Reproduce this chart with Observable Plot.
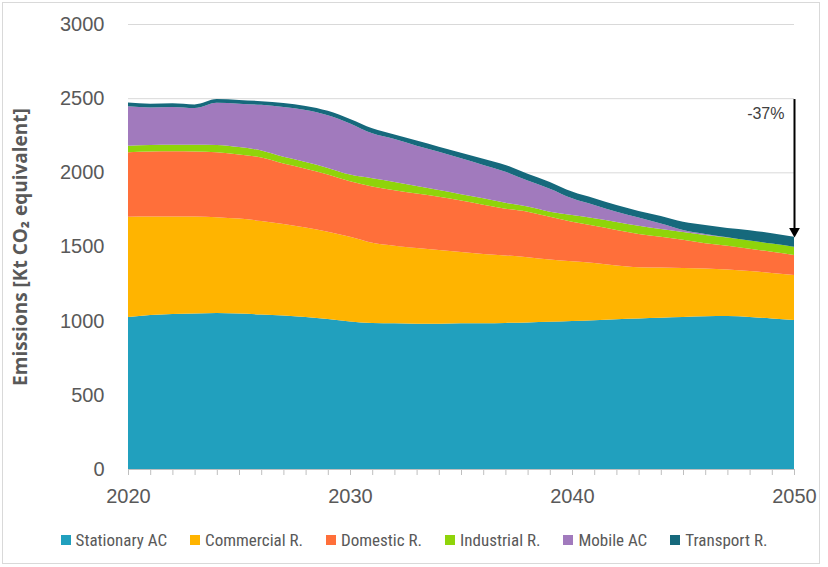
<!DOCTYPE html>
<html>
<head>
<meta charset="utf-8">
<script src="https://cdn.jsdelivr.net/npm/d3@7"></script>
<script src="https://cdn.jsdelivr.net/npm/@observablehq/plot@0.6"></script>
<style>
  html, body { margin: 0; padding: 0; background: #fff; }
  #wrap { position: relative; width: 828px; height: 567px; overflow: hidden; }
  #frame { position: absolute; left: 2px; top: 2px; width: 816px; height: 560px; border: 1px solid #d9d9d9; pointer-events: none; }
  #legend { position: absolute; left: 0; top: 520px; width: 828px; height: 40px; display: flex; justify-content: center; align-items: center; gap: 23px;
    font-family: "Liberation Sans Narrow", "Arial Narrow", "Roboto", sans-serif; font-stretch: condensed; font-size: 17px; color: #595959; }
  #legend .item { display: flex; align-items: center; gap: 5px; }
  #legend .sw { width: 10px; height: 10px; display: inline-block; }
</style>
</head>
<body>
<div id="wrap">
  <div id="chart"></div>
  <div id="legend"></div>
  <div id="frame"></div>
</div>
<script>
const years = d3.range(2020, 2051);
const series = ["Stationary AC", "Commercial R.", "Domestic R.", "Industrial R.", "Mobile AC", "Transport R."];
const colors = ["#21a0be", "#ffb400", "#ff6f3a", "#8fd40a", "#a17abd", "#16697c"];

const stationaryAC = [1025,1038,1045,1048,1052,1048,1042,1035,1025,1012,995,985,982,980,980,982,983,985,988,992,998,1003,1010,1015,1020,1025,1030,1032,1025,1015,1005];
const commercialR  = [676,665,658,654,646,640,630,617,603,588,570,540,523,510,496,481,467,455,440,420,402,385,362,345,338,330,322,313,310,307,303];
const domesticR    = [434,437,439,438,437,432,428,408,397,385,375,380,375,368,360,347,332,315,307,288,267,252,240,225,207,190,170,160,150,143,135];
const industrialR  = [45,45,44,46,49,50,48,45,45,45,45,55,55,50,45,43,43,40,35,35,45,50,53,55,53,52,56,55,55,55,56];
const mobileAC     = [265,252,255,247,285,293,307,336,350,355,345,303,290,272,258,242,225,209,175,155,113,90,70,55,37,15,7,2,0,0,0];
const transportR   = [25,25,25,25,25,25,25,27,28,30,30,34,30,34,34,37,42,46,45,45,45,45,45,45,50,55,60,63,70,70,67];

const yTicks = [0, 500, 1000, 1500, 2000, 2500, 3000];
const xLabelTicks = [2020, 2030, 2040, 2050];
const yLabel = "Emissions [Kt CO₂ equivalent]";

const values = [stationaryAC, commercialR, domesticR, industrialR, mobileAC, transportR];
const rows = years.flatMap((yr, i) => series.map((s, j) => ({year: yr, series: s, value: values[j][i]})));

const totals = years.map((_, i) => d3.sum(values, v => v[i]));
const peak = d3.max(totals);
const last = totals[totals.length - 1];
const pct = Math.round((last - peak) / peak * 100);
const arrowData = [{x: years[years.length - 1], y1: peak, y2: last, label: `${pct}%`}];

const textFont = "'Liberation Sans', Arial, sans-serif";

const chart = Plot.plot({
  width: 828,
  height: 520,
  marginLeft: 128,
  marginRight: 34,
  marginTop: 24,
  marginBottom: 51,
  style: {fontFamily: textFont, background: "transparent"},
  x: {domain: [2020, 2050]},
  y: {domain: [0, 3000]},
  color: {domain: series, range: colors, legend: false},
  marks: [
    Plot.gridY(yTicks.filter(d => d > 0), {stroke: "#d9d9d9", strokeOpacity: 1, strokeWidth: 1}),
    Plot.areaY(rows, {x: "year", y: "value", fill: "series", order: series, curve: "monotone-x"}),
    Plot.ruleY([0], {stroke: "#bfbfbf", strokeWidth: 1}),
    Plot.axisX({ticks: years, tickSize: 6, tickFormat: () => "", stroke: "#bfbfbf", label: null}),
    Plot.axisX({ticks: xLabelTicks, tickSize: 0, tickPadding: 19, tickFormat: d => String(d), fontSize: 20, fill: "#595959", label: null}),
    Plot.axisY({ticks: yTicks, tickSize: 0, tickPadding: 24, tickFormat: d => String(d), fontSize: 20, fill: "#595959", label: null}),
    Plot.text([yLabel], {frameAnchor: "left", textAnchor: "middle", rotate: -90, dx: -108, text: d => d, fontSize: 19, fontWeight: "bold", fill: "#595959", fontFamily: "'Open Sans', 'Noto Sans', sans-serif"}),
    Plot.ruleX(arrowData, {x: "x", y1: "y1", y2: "y2", stroke: "#000", strokeWidth: 2, insetBottom: 6}),
    Plot.dot(arrowData, {x: "x", y: "y2", symbol: "triangle", rotate: 180, r: 4, fill: "#000", stroke: null, dy: -6}),
    Plot.text(arrowData, {x: "x", y: "y1", text: "label", textAnchor: "end", dx: -10, dy: 14, fontSize: 16, fill: "#404040"})
  ]
});
document.getElementById("chart").appendChild(chart);

const legend = document.getElementById("legend");
series.forEach((s, i) => {
  const item = document.createElement("div");
  item.className = "item";
  const sw = document.createElement("span");
  sw.className = "sw";
  sw.style.background = colors[i];
  const t = document.createElement("span");
  t.textContent = s;
  item.appendChild(sw);
  item.appendChild(t);
  legend.appendChild(item);
});
</script>
</body>
</html>
